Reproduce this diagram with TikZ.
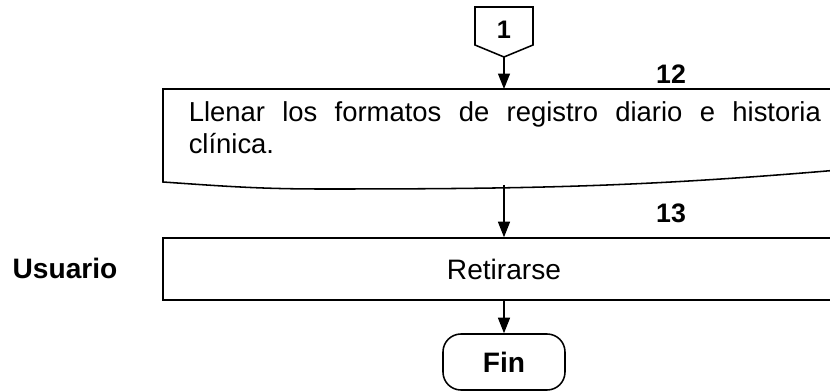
\documentclass[tikz,border=0pt]{standalone}
\usepackage{fontspec}
\setmainfont{Liberation Sans}
\usetikzlibrary{arrows.meta,shapes,positioning}
\tikzset{
  flow/.style={line width=1.1pt, -{Triangle[length=11pt,width=8.5pt]}},
  stepbox/.style={draw, line width=1.1pt, rectangle, minimum width=17.05cm, minimum height=1.55cm, font=\fontsize{20}{22}\selectfont},
  stepnum/.style={font=\bfseries\fontsize{19}{22}\selectfont},
  endbox/.style={draw, line width=1.1pt, rectangle, rounded corners=0.45cm, minimum width=3.05cm, minimum height=1.4cm, font=\bfseries\fontsize{20}{22}\selectfont}
}

\begin{document}
\begin{tikzpicture}[x=0.025cm, y=-0.025cm, line width=1.1pt]
  \useasboundingbox (0,0) rectangle (830,392);
  \clip (0,0) rectangle (830,392);

  % Off-page connector
  \draw (475,7) -- (533,7) -- (533,45) -- (504,57) -- (475,45) -- cycle;
  \coordinate (c1tip) at (504,57);
  \node[stepnum, font=\bfseries\fontsize{18}{20}\selectfont] (c1) at (504,30) {1};

  % Step 12 (document)
  \draw (163,89) -- (850,89) -- (850,169)
        to[out=185,in=0] (323,189) to[out=180,in=-4] (163,182) -- cycle;
  \coordinate (doctop) at (504,89);
  \coordinate (docbot) at (504,185);
  \node[stepnum] (n12) at (671,74) {12};
  \node[anchor=north west, inner sep=0pt, text width=15.8cm, align=justify,
        font=\fontsize{19.5}{22.5}\selectfont] (doc) at (188,101)
        {Llenar los formatos de registro diario e historia\linebreak clínica.};

  % Step 13
  \node[stepbox] (ret) at (504,269) {Retirarse};
  \node[stepnum] (n13) at (671,213) {13};
  \node[font=\bfseries\fontsize{20}{22}\selectfont] (usr) at (65,268) {Usuario};

  % End
  \node[endbox] (fin) at (504,362) {Fin};

  % Connect nodes
  \draw[flow] (c1tip) -- (doctop);
  \draw[flow] (docbot) -- (ret.north);
  \draw[flow] (ret) -- (fin);
\end{tikzpicture}
\end{document}
